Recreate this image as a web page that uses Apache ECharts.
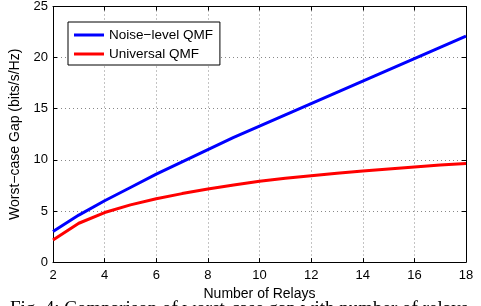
<!DOCTYPE html>
<html>
<head>
<meta charset="utf-8">
<script src="https://cdn.jsdelivr.net/npm/echarts@6/dist/echarts.min.js"></script>
<style>
  html, body { margin: 0; padding: 0; background: #fff; }
  #chart-container { width: 481px; height: 306px; }
</style>
</head>
<body>
<div id="chart-container"></div>
<script>
// relays count on the x axis
const relays = [2, 3, 4, 5, 6, 7, 8, 9, 10, 11, 12, 13, 14, 15, 16, 17, 18]

// worst-case gap (bits/s/Hz)
const noiseLevelQmf = [3.0, 4.6, 6.0, 7.3, 8.6, 9.8, 11.0, 12.2, 13.3, 14.4, 15.5, 16.6, 17.7, 18.8, 19.9, 21.0, 22.1]
const universalQmf = [2.15, 3.8, 4.85, 5.6, 6.2, 6.7, 7.15, 7.55, 7.9, 8.2, 8.45, 8.7, 8.9, 9.1, 9.3, 9.5, 9.65]

const seriesNames = ["Noise\u2212level QMF", "Universal QMF"]
const captionText = "Fig. 4: Comparison of worst-case gap with number of relays"

const fontFamily = "Liberation Sans, Arial, sans-serif"

var dom = document.getElementById("chart-container")
var myChart = echarts.init(dom, null, { renderer: "canvas" })

const gridLine = {
  show: true,
  lineStyle: { color: "#888", type: [1, 3], width: 1 }
}

const boxLine = { show: true, onZero: false, lineStyle: { color: "#000", width: 1 } }
const innerTick = { show: true, inside: true, length: 4, lineStyle: { color: "#000" } }

const toPairs = (ys) => ys.map((y, i) => [relays[i], y])

var option = {
  animation: false,
  backgroundColor: "#fff",
  grid: { left: 53, right: 15, top: 6, bottom: 41 },
  legend: {
    left: 68,
    top: 22,
    orient: "vertical",
    backgroundColor: "#fff",
    borderColor: "#000",
    borderWidth: 1,
    padding: [6, 7, 4, 6],
    itemGap: 5,
    itemWidth: 30,
    itemHeight: 3,
    icon: "rect",
    textStyle: { fontFamily, fontSize: 13.5, color: "#000" },
    data: seriesNames
  },
  xAxis: [
    {
      type: "value",
      min: 2,
      max: 18,
      interval: 2,
      position: "bottom",
      name: "Number of Relays",
      nameLocation: "middle",
      nameGap: 20,
      nameTextStyle: { fontFamily, fontSize: 14, color: "#000" },
      axisLine: boxLine,
      axisTick: innerTick,
      axisLabel: { fontFamily, fontSize: 13, color: "#000", margin: 7 },
      splitLine: gridLine
    },
    {
      type: "value",
      min: 2,
      max: 18,
      interval: 2,
      position: "top",
      axisLine: boxLine,
      axisTick: innerTick,
      axisLabel: { show: false },
      splitLine: { show: false }
    }
  ],
  yAxis: [
    {
      type: "value",
      min: 0,
      max: 25,
      interval: 5,
      position: "left",
      name: "Worst\u2212case Gap (bits/s/Hz)",
      nameLocation: "middle",
      nameGap: 24,
      nameTextStyle: { fontFamily, fontSize: 14, color: "#000" },
      axisLine: boxLine,
      axisTick: innerTick,
      axisLabel: { fontFamily, fontSize: 13, color: "#000", margin: 5 },
      splitLine: gridLine
    },
    {
      type: "value",
      min: 0,
      max: 25,
      interval: 5,
      position: "right",
      axisLine: boxLine,
      axisTick: innerTick,
      axisLabel: { show: false },
      splitLine: { show: false }
    }
  ],
  graphic: [
    {
      type: "text",
      left: 10,
      top: 300,
      style: {
        text: captionText,
        fontFamily: "Liberation Serif, Times New Roman, serif",
        fontSize: 19,
        fill: "#000"
      }
    }
  ],
  series: [
    {
      name: seriesNames[0],
      type: "line",
      data: toPairs(noiseLevelQmf),
      showSymbol: false,
      symbol: "none",
      color: "#0000ff",
      lineStyle: { width: 3, color: "#0000ff" }
    },
    {
      name: seriesNames[1],
      type: "line",
      data: toPairs(universalQmf),
      showSymbol: false,
      symbol: "none",
      color: "#ff0000",
      lineStyle: { width: 3, color: "#ff0000" }
    }
  ]
}

myChart.setOption(option)
window.addEventListener("resize", myChart.resize)
</script>
</body>
</html>
